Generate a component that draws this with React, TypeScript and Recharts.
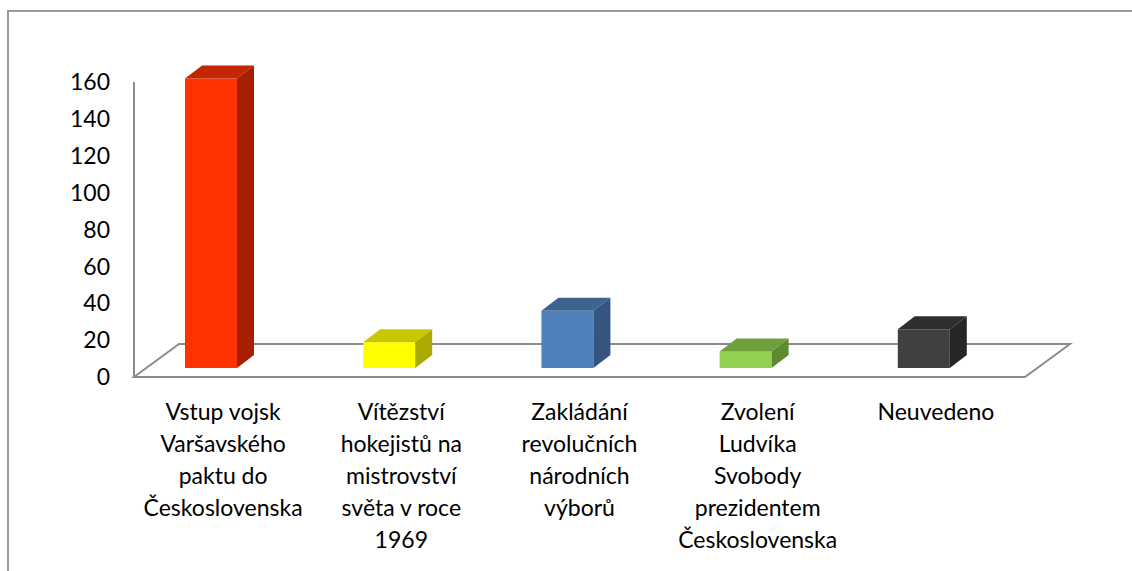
import React from 'react';
import {
  BarChart,
  Bar,
  XAxis,
  YAxis,
  Cell,
  ReferenceLine,
} from 'recharts';

const categories = [
  'Vstup vojsk Varšavského paktu do Československa',
  'Vítězství hokejistů na mistrovství světa v roce 1969',
  'Zakládání revolučních národních výborů',
  'Zvolení Ludvíka Svobody prezidentem Československa',
  'Neuvedeno',
];
const values = [157, 14, 31, 9, 21];
const yTicks = [0, 20, 40, 60, 80, 100, 120, 140, 160];

// front / top / side shades per bar
const frontColors = ['#ff3300', '#ffff00', '#4f81bd', '#92d050', '#404040'];
const topColors = ['#c42700', '#c8c800', '#3c6491', '#70a03c', '#2e2e2e'];
const sideColors = ['#a62000', '#aaaa00', '#33557f', '#5e8a30', '#262626'];

const data = categories.map((name, i) => ({ name, value: values[i] }));

const FONT = 'Lato, "Open Sans", sans-serif';
const DX = 17; // bar depth
const DY = 13;
const SHIFT_X = -12;
const SHIFT_Y = -9;

const wrapWords = (s: string, max: number) => {
  const lines: string[] = [];
  let cur = '';
  s.split(' ').forEach((w) => {
    if (!cur) cur = w;
    else if ((cur + ' ' + w).length <= max) cur = cur + ' ' + w;
    else {
      lines.push(cur);
      cur = w;
    }
  });
  if (cur) lines.push(cur);
  return lines;
};

const Box = (props: any) => {
  const { x, y, width, height, index } = props;
  const x0 = x + SHIFT_X;
  const y0 = y + SHIFT_Y;
  const x1 = x0 + width;
  const y1 = y0 + height;
  return (
    <g>
      <rect x={x0} y={y0} width={width} height={height} fill={frontColors[index]} />
      <polygon
        points={`${x0},${y0} ${x0 + DX},${y0 - DY} ${x1 + DX},${y0 - DY} ${x1},${y0}`}
        fill={topColors[index]}
      />
      <polygon
        points={`${x1},${y0} ${x1 + DX},${y0 - DY} ${x1 + DX},${y1 - DY} ${x1},${y1}`}
        fill={sideColors[index]}
      />
    </g>
  );
};

const Floor = (props: any) => {
  const { x1, y1, x2, y2 } = props;
  const bx = 45;
  const by = 33;
  return (
    <polygon
      points={`${x1},${y1} ${x1 + bx},${y1 - by} ${x2 + bx},${y2 - by} ${x2},${y2}`}
      fill="none"
      stroke="#8c8c8c"
      strokeWidth={2}
    />
  );
};

const CatTick = (props: any) => {
  const { x, y, payload } = props;
  const lines = wrapWords(payload.value, 14);
  return (
    <g>
      {lines.map((l, i) => (
        <text
          key={i}
          x={x}
          y={y + 37 + i * 32}
          textAnchor="middle"
          dominantBaseline="middle"
          fontFamily={FONT}
          fontSize={23}
          fill="#000"
        >
          {l}
        </text>
      ))}
    </g>
  );
};

const App: React.FC = () => {
  return (
    <div
      style={{
        position: 'absolute',
        left: 0,
        top: 0,
        width: 1132,
        height: 571,
        overflow: 'hidden',
        background: '#fff',
      }}
    >
      <div
        style={{
          position: 'absolute',
          left: 7,
          top: 10,
          width: 1140,
          height: 580,
          borderLeft: '2px solid #9a9a9a',
          borderTop: '2px solid #9a9a9a',
        }}
      />
      <div style={{ position: 'absolute', left: 0, top: 0 }}>
        <BarChart
          width={1132}
          height={571}
          data={data}
          margin={{ top: 82, right: 107, bottom: 0, left: 0 }}
        >
          <ReferenceLine y={0} shape={Floor} zIndex={0} />
          <XAxis
            dataKey="name"
            axisLine={false}
            tickLine={false}
            tickSize={0}
            tickMargin={0}
            height={194}
            interval={0}
            tick={<CatTick />}
          />
          <YAxis
            domain={[0, 160]}
            ticks={yTicks}
            width={134}
            tickLine={false}
            tickSize={0}
            tickMargin={24}
            interval={0}
            axisLine={{ stroke: '#8c8c8c', strokeWidth: 2 }}
            tick={{ fill: '#000', fontSize: 23, fontFamily: FONT }}
          />
          <Bar dataKey="value" barSize={52} shape={Box} isAnimationActive={false} zIndex={500}>
            {data.map((d, i) => (
              <Cell key={d.name} fill={frontColors[i]} />
            ))}
          </Bar>
        </BarChart>
      </div>
    </div>
  );
};

export default App;
